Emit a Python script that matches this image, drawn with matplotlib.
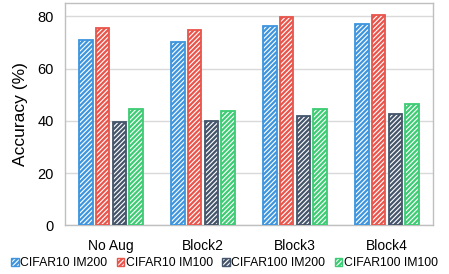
import matplotlib
matplotlib.use("Agg")
import matplotlib.pyplot as plt
import numpy as np
from matplotlib.patches import Patch

plt.rcParams['font.family'] = ['Liberation Sans', 'DejaVu Sans']
plt.rcParams['hatch.linewidth'] = 1.6

categories = ["No Aug", "Block2", "Block3", "Block4"]
series_names = ["CIFAR10 IM200", "CIFAR10 IM100", "CIFAR100 IM200", "CIFAR100 IM100"]
cifar10_im200 = [70.9, 70.1, 76.5, 77.0]
cifar10_im100 = [75.7, 74.9, 79.7, 80.4]
cifar100_im200 = [39.6, 40.0, 42.0, 42.8]
cifar100_im100 = [44.6, 43.7, 44.7, 46.5]
yticks = [0, 20, 40, 60, 80]

colors = ["#3E95DE", "#E9544B", "#44546A", "#3DCB74"]
series = [cifar10_im200, cifar10_im100, cifar100_im200, cifar100_im100]

fig = plt.figure(figsize=(4.49, 2.74), dpi=100)
ax = fig.add_axes([65/449, 1-225.3/274, 368/449, 222/274])

x = np.arange(len(categories))
step = 0.18
width = 0.147
HATCH = "///////"
for i, (vals, c, name) in enumerate(zip(series, colors, series_names)):
    offs = (i - 1.5) * step
    ax.bar(x + offs, vals, width, facecolor="white", edgecolor=c,
           hatch=HATCH, linewidth=1.3, zorder=3, label=name)

ax.set_xlim(-0.5, 3.5)
ax.set_ylim(0, 85)
ax.set_yticks(yticks)
ax.set_xticks(x)
ax.set_xticklabels(categories, fontsize=10)
ax.tick_params(axis='y', labelsize=10.5, length=0, pad=8)
ax.tick_params(axis='x', length=0, pad=10)
ax.yaxis.grid(True, color="#D9D9D9", linewidth=1.0, zorder=0)
ax.set_axisbelow(True)
for s in ax.spines.values():
    s.set_color("#BFBFBF")
    s.set_linewidth(1.0)
ax.set_ylabel("Accuracy (%)", fontsize=12.5, labelpad=7)

handles = [Patch(facecolor="white", edgecolor=c, hatch=HATCH, linewidth=1.0) for c in colors]
fig.legend(handles, series_names, loc="center", bbox_to_anchor=(0.5, 1-263/274),
           ncol=4, frameon=False, fontsize=8.8, handlelength=0.6, handleheight=0.6,
           handletextpad=0.15, columnspacing=0.75, borderpad=0)

fig.savefig("out.png", dpi=100)
